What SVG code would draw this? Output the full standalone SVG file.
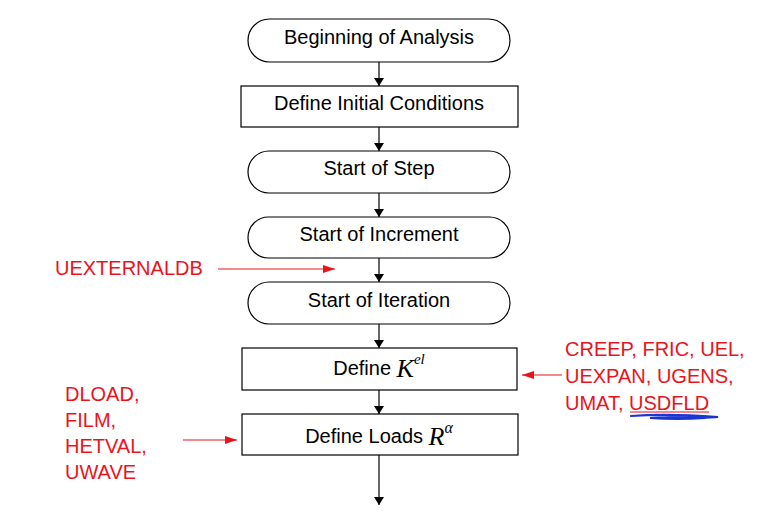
<svg xmlns="http://www.w3.org/2000/svg" width="758" height="531" viewBox="0 0 758 531">
<style>
.box{fill:#fff;stroke:#000;stroke-width:1.2}
.t{font-family:"Liberation Sans",Arial,sans-serif;font-size:20px;fill:#000;text-anchor:middle;dominant-baseline:central}
.r{font-family:"Liberation Sans",Arial,sans-serif;font-size:20px;fill:#e8141c}
.m{font-family:"Liberation Serif","Times New Roman",serif;font-style:italic}
.c{stroke:#000;stroke-width:1.2;fill:none}
.rc{stroke:#e8141c;stroke-width:1.2;fill:none}
</style>
<defs>
<marker id="ah" markerWidth="8" markerHeight="10" refX="8" refY="5" orient="auto" markerUnits="userSpaceOnUse"><path d="M0,0 L8,5 L0,10 Z" fill="#000"/></marker>
<marker id="rh" markerWidth="12" markerHeight="8" refX="12" refY="4" orient="auto" markerUnits="userSpaceOnUse"><path d="M0,0 L12,4 L0,8 Z" fill="#e8141c"/></marker>
</defs>
<rect width="758" height="531" fill="#fff"/>
<g id="connectors">
<line class="c" x1="379" y1="62" x2="379" y2="86" marker-end="url(#ah)"/>
<line class="c" x1="379" y1="127" x2="379" y2="151" marker-end="url(#ah)"/>
<line class="c" x1="379" y1="193" x2="379" y2="217" marker-end="url(#ah)"/>
<line class="c" x1="379" y1="258" x2="379" y2="282" marker-end="url(#ah)"/>
<line class="c" x1="379" y1="324" x2="379" y2="348" marker-end="url(#ah)"/>
<line class="c" x1="379" y1="390" x2="379" y2="414" marker-end="url(#ah)"/>
<line class="c" x1="379" y1="455" x2="379" y2="505" marker-end="url(#ah)"/>
<line class="rc" x1="218" y1="269" x2="335" y2="269" marker-end="url(#rh)"/>
<line class="rc" x1="562" y1="375" x2="522" y2="375" marker-end="url(#rh)"/>
<line class="rc" x1="183" y1="440" x2="237" y2="440" marker-end="url(#rh)"/>
</g>
<g id="n1"><rect class="box" x="248" y="19" width="262" height="43" rx="21.5"/><text class="t" x="379" y="37">Beginning of Analysis</text></g>
<g id="n2"><rect class="box" x="241" y="86" width="277" height="41"/><text class="t" x="379" y="103">Define Initial Conditions</text></g>
<g id="n3"><rect class="box" x="248" y="151" width="262" height="42" rx="21"/><text class="t" x="379" y="168">Start of Step</text></g>
<g id="n4"><rect class="box" x="248" y="217" width="262" height="41" rx="20.5"/><text class="t" x="379" y="234">Start of Increment</text></g>
<g id="n5"><rect class="box" x="248" y="282" width="262" height="42" rx="21"/><text class="t" x="379" y="300">Start of Iteration</text></g>
<g id="n6"><rect class="box" x="242" y="348" width="275" height="42"/><text class="t" x="379" y="368"><tspan>Define </tspan><tspan class="m" font-size="26px">K</tspan><tspan class="m" font-size="15px" dy="-9">el</tspan></text></g>
<g id="n7"><rect class="box" x="242" y="414" width="276" height="41"/><text class="t" x="379" y="436"><tspan>Define Loads </tspan><tspan class="m" font-size="26px">R</tspan><tspan class="m" font-size="16px" dy="-9">α</tspan></text></g>
<g id="labels">
<text class="r" x="55" y="275">UEXTERNALDB</text>
<text class="r" x="565" y="356">CREEP, FRIC, UEL,</text>
<text class="r" x="565" y="383">UEXPAN, UGENS,</text>
<text class="r" x="565" y="410">UMAT, USDFLD</text>
<line x1="630" y1="412" x2="709" y2="412" stroke="#e8141c" stroke-width="1.2"/>
<text class="r" x="65" y="401">DLOAD,</text>
<text class="r" x="65" y="427">FILM,</text>
<text class="r" x="65" y="453">HETVAL,</text>
<text class="r" x="65" y="479">UWAVE</text>
<path d="M631,416 C660,414 690,415 718,417 C700,419 670,416 650,418 C665,419 690,419 705,418" fill="none" stroke="#1a35d6" stroke-width="2.2" stroke-linecap="round"/>
</g>
</svg>
